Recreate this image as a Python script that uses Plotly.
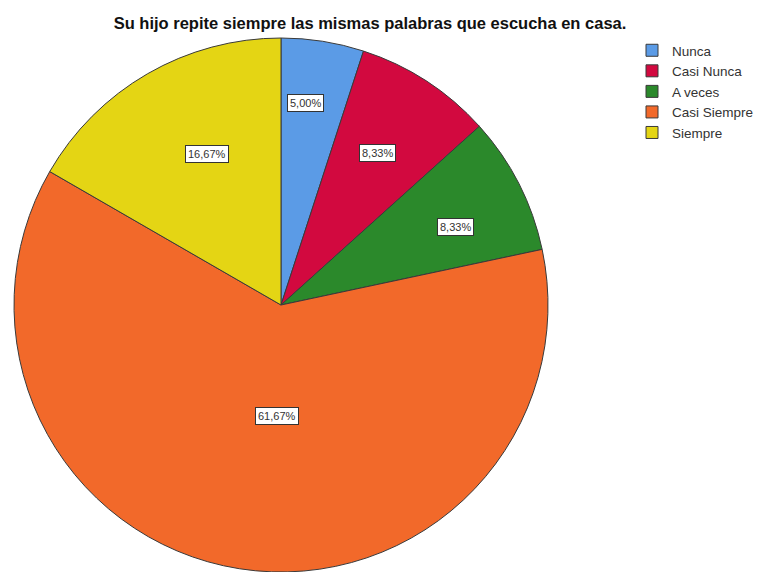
import math
import plotly.graph_objects as go

categories = ["Nunca", "Casi Nunca", "A veces", "Casi Siempre", "Siempre"]
percentages = [5.00, 8.33, 8.33, 61.67, 16.67]
label_texts = ["5,00%", "8,33%", "8,33%", "61,67%", "16,67%"]
colors = ["#5b9be6", "#d2093f", "#2b892b", "#f2692a", "#e4d514"]
label_radius = [0.762, 0.674, 0.715, 0.416, 0.629]
label_angle_shift = [-2.0, -0.5, 3.0, -7.0, 4.0]

W, H = 762, 572
cx, cy, R = 281, 305, 267

fig = go.Figure(go.Pie(
    labels=categories, values=percentages, sort=False, direction="clockwise",
    rotation=0, textinfo="none", hoverinfo="label+percent",
    marker=dict(colors=colors, line=dict(color="#3a3a3a", width=1)),
    domain=dict(x=[(cx - R) / W, (cx + R) / W], y=[1 - (cy + R) / H, 1 - (cy - R) / H]),
))

total = sum(percentages)
cum = 0.0
annotations = []
for v, t, rf, sh in zip(percentages, label_texts, label_radius, label_angle_shift):
    mid = (cum + v / 2) / total * 2 * math.pi + math.radians(sh)
    cum += v
    px = cx + rf * R * math.sin(mid)
    py = cy - rf * R * math.cos(mid)
    annotations.append(dict(
        x=px / W, y=1 - py / H, xref="paper", yref="paper", text=t, showarrow=False,
        xanchor="center", yanchor="middle",
        font=dict(family="Liberation Sans, Arial", size=11, color="#333"),
        bgcolor="white", bordercolor="#333", borderwidth=1, borderpad=2,
    ))

fig.update_layout(
    width=W, height=H, margin=dict(l=0, r=0, t=0, b=0),
    paper_bgcolor="white", plot_bgcolor="white",
    title=dict(text="<b>Su hijo repite siempre las mismas palabras que escucha en casa.</b>",
               x=370 / W, xanchor="center", y=1 - 23 / H, yanchor="middle",
               font=dict(family="Liberation Sans, Arial", size=16.5, color="#111")),
    legend=dict(x=632 / W, y=1 - 35 / H, xanchor="left", yanchor="top",
                font=dict(family="Liberation Sans, Arial", size=13.5, color="#333"),
                bgcolor="rgba(0,0,0,0)", tracegroupgap=0, itemwidth=30),
    annotations=annotations,
)

fig.write_html("out.html", post_script="document.body.style.margin='0';",
               config={"displayModeBar": False})
